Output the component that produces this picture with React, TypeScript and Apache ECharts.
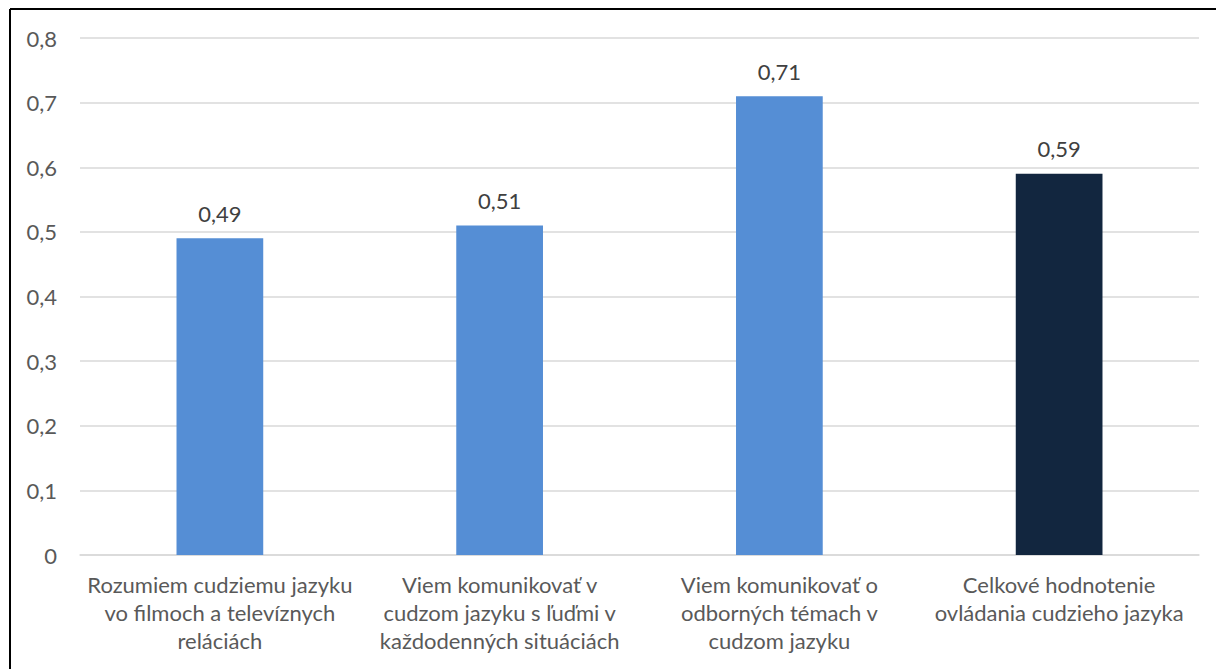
import React, { useEffect, useRef } from "react";
import * as echarts from "echarts";

const categories = [
  "Rozumiem cudziemu jazyku\nvo filmoch a televíznych\nreláciách",
  "Viem komunikovať v\ncudzom jazyku s ľuďmi v\nkaždodenných situáciách",
  "Viem komunikovať o\nodborných témach v\ncudzom jazyku",
  "Celkové hodnotenie\novládania cudzieho jazyka",
];
const values = [0.49, 0.51, 0.71, 0.59];
const barColors = ["#558ed5", "#558ed5", "#558ed5", "#12263f"];

const fmt = (v: number) => (v === 0 ? "0" : String(+v.toFixed(2)).replace(".", ","));

export default function App() {
  const ref = useRef<HTMLDivElement>(null);
  useEffect(() => {
    const chart = echarts.init(ref.current!, null, { renderer: "svg" });
    const font = "Lato, 'Open Sans', sans-serif";
    chart.setOption({
      animation: false,
      backgroundColor: "#ffffff",
      textStyle: { fontFamily: font },
      grid: { left: 80, right: 17, top: 38, bottom: 114, containLabel: false },
      xAxis: {
        type: "category",
        data: categories,
        axisLine: { show: true, lineStyle: { color: "#d9d9d9", width: 1.5 } },
        axisTick: { show: false },
        axisLabel: {
          color: "#595959",
          fontSize: 22,
          fontFamily: font,
          lineHeight: 28,
          margin: 15,
          interval: 0,
        },
      },
      yAxis: {
        type: "value",
        min: 0,
        max: 0.8,
        interval: 0.1,
        axisLine: { show: false },
        axisTick: { show: false },
        splitLine: { lineStyle: { color: "#d9d9d9", width: 1.5 } },
        axisLabel: {
          color: "#595959",
          fontSize: 22,
          fontFamily: font,
          margin: 23,
          formatter: (v: number) => fmt(v),
        },
      },
      graphic: [
        { type: "line", shape: { x1: 10, y1: 9, x2: 10, y2: 669 }, style: { stroke: "#000", lineWidth: 2 } },
        { type: "line", shape: { x1: 10, y1: 9, x2: 1216, y2: 9 }, style: { stroke: "#000", lineWidth: 2 } },
      ],
      series: [
        {
          type: "bar",
          barWidth: "31%",
          data: values.map((v, i) => ({ value: v, itemStyle: { color: barColors[i] } })),
          label: {
            show: true,
            position: "top",
            distance: 14,
            color: "#404040",
            fontSize: 22,
            fontFamily: font,
            formatter: (p: any) => fmt(p.value),
          },
        },
      ],
    });
    return () => chart.dispose();
  }, []);
  return (
    <div
      ref={ref}
      style={{ position: "absolute", left: 0, top: 0, width: 1216, height: 669 }}
    />
  );
}
